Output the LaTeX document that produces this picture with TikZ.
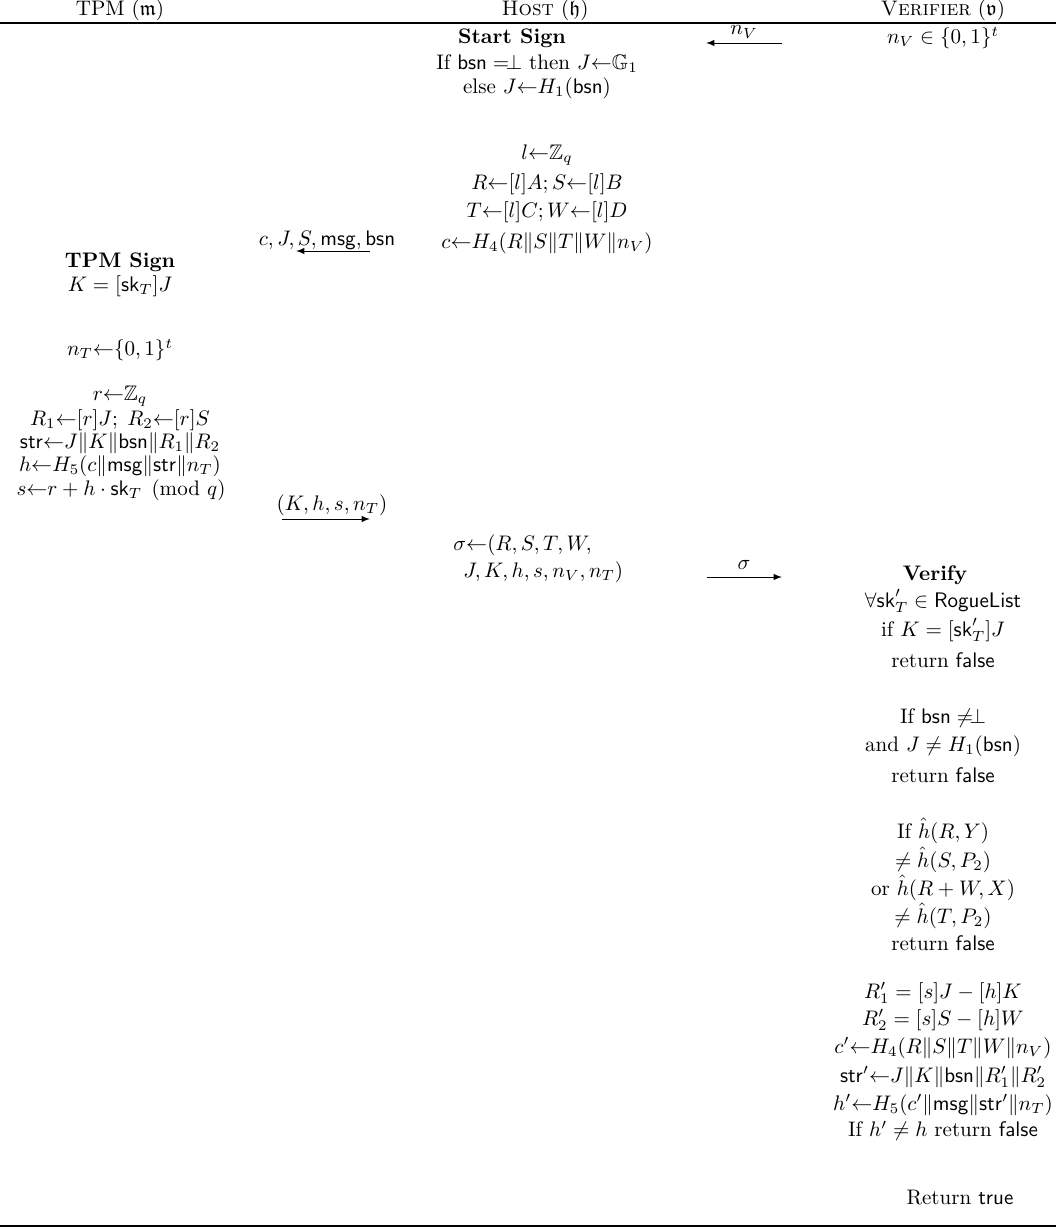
\documentclass[tikz,border=0pt]{standalone}
\usepackage{amsmath,amssymb}
\usepackage{tikz}

\newcommand{\samp}{{\leftarrow}}

\begin{document}
\begin{tikzpicture}[x=0.475pt, y=-0.475pt, send/.style={-latex}, rule/.style={line width=0.8pt},
        every node/.style={inner sep=0pt}]
        \useasboundingbox (0,0) rectangle (1056,1230);

        % parties
        \node (hdrT) at (120,10) {TPM ($\mathfrak{m}$)};
        \node (hdrH) at (545,10) {\textsc{Host} ($\mathfrak{h}$)};
        \node (hdrV) at (943,10) {\textsc{Verifier} ($\mathfrak{v}$)};
        \draw[rule] (0,23) -- (1056,23);
        \draw[rule] (0,1226) -- (1056,1226);

        % verifier nonce
        \node (nV) at (943,38) {$n_V \in \{0,1\}^t$};
        \coordinate (nvS) at (782,43);
        \coordinate (nvE) at (706,43);
        \draw[send] (nvS) -- (nvE);
        \node (nvL) at (744,32) {$n_V$};

        % host: start sign
        \node (start) at (512,38) {\textbf{Start Sign}};
        \node (hA) at (537,64) {If $\mathsf{bsn} =\!\perp$ then $J \samp \mathbb{G}_1$};
        \node (hB) at (537,88) {else $J \samp H_1(\mathsf{bsn})$};
        \node (hC) at (547,155) {$l \samp \mathbb{Z}_q$};
        \node (hD) at (547,184) {$R \samp [l]A; S \samp [l]B$};
        \node (hE) at (547,212) {$T \samp [l]C; W \samp [l]D$};
        \node (hF) at (547,243) {$c \samp H_4(R\|S\|T\|W\|n_V)$};

        \coordinate (cS) at (370,251);
        \coordinate (cE) at (296,251);
        \draw[send] (cS) -- (cE);
        \node (cL) at (327,240) {$c, J, S, \mathsf{msg}, \mathsf{bsn}$};

        % tpm: sign
        \node (tsign) at (120,262) {\textbf{TPM Sign}};
        \node (tA) at (120,286) {$K = [\mathsf{sk}_T]J$};
        \node (tB) at (120,350) {$n_T \samp \{0,1\}^t$};
        \node (tC) at (120,396) {$r \samp \mathbb{Z}_q$};
        \node (tD) at (120,420) {$R_1 \samp [r]J;\; R_2 \samp [r]S$};
        \node (tE) at (120,443) {$\mathsf{str} \samp J\|K\|\mathsf{bsn}\|R_1\|R_2$};
        \node (tF) at (120,466) {$h \samp H_5(c\|\mathsf{msg}\|\mathsf{str}\|n_T)$};
        \node (tG) at (121,490) {$s \samp r + h \cdot \mathsf{sk}_T \pmod{q}$};

        \coordinate (kS) at (282,519);
        \coordinate (kE) at (370,519);
        \draw[send] (kS) -- (kE);
        \node (kL) at (332,505) {$(K, h, s, n_T)$};

        % host: signature
        \node[anchor=west] (sigA) at (453,545) {$\sigma \samp (R, S, T, W,$};
        \node[anchor=west] (sigB) at (463,572) {$J, K, h, s, n_V, n_T)$};

        \coordinate (sS) at (707,577);
        \coordinate (sE) at (782,577);
        \draw[send] (sS) -- (sE);
        \node (sL) at (744,565) {$\sigma$};

        % verifier: verify
        \node (ver) at (935,575) {\textbf{Verify}};
        \node (vA) at (943,601) {$\forall \mathsf{sk}'_T \in \mathsf{RogueList}$};
        \node (vB) at (943,630) {if $K = [\mathsf{sk}'_T]J$};
        \node (vC) at (943,718) {If $\mathsf{bsn} \neq\!\perp$};
        \node (vD) at (943,746) {and $J \neq H_1(\mathsf{bsn})$};
        \node (vE) at (943,831) {If $\hat{h}(R,Y)$};
        \node (vF) at (943,860) {$\neq \hat{h}(S,P_2)$};
        \node (vG) at (943,888) {or $\hat{h}(R+W,X)$};
        \node (vH) at (943,916) {$\neq \hat{h}(T,P_2)$};
        \foreach \y/\n in {660/1,775/2,943/3}
            \node (ret\n) at (943,\y) {return \textsf{false}};

        \node (vI) at (943,993) {$R'_1 = [s]J - [h]K$};
        \node (vJ) at (943,1020) {$R'_2 = [s]S - [h]W$};
        \node (vK) at (943,1048) {$c' \samp H_4(R\|S\|T\|W\|n_V)$};
        \node (vL) at (943,1077) {$\mathsf{str}' \samp J\|K\|\mathsf{bsn}\|R'_1\|R'_2$};
        \node (vM) at (943,1105) {$h' \samp H_5(c'\|\mathsf{msg}\|\mathsf{str}'\|n_T)$};
        \node (vN) at (943,1131) {If $h' \neq h$ return \textsf{false}};
        \node (vO) at (960,1198) {Return \textsf{true}};

    \end{tikzpicture}
\end{document}
